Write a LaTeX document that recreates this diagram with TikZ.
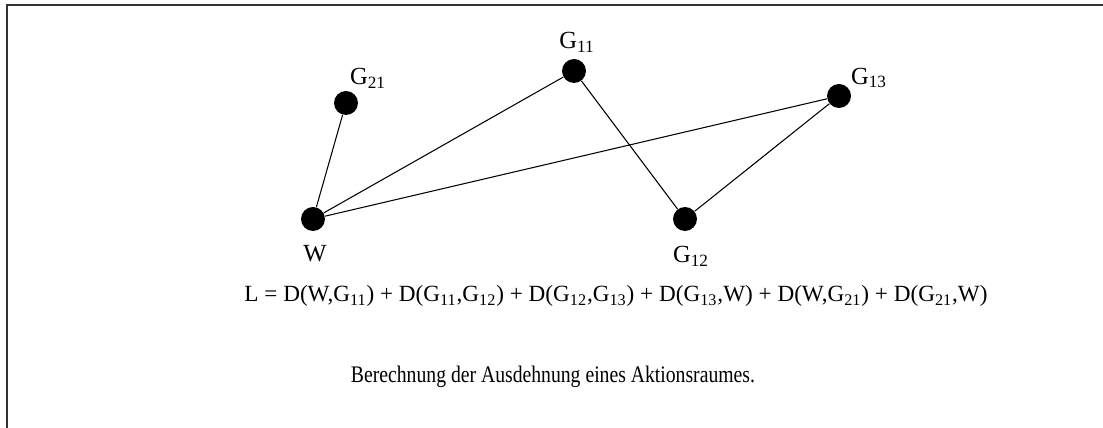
\documentclass[tikz,border=0pt]{standalone}
\usepackage{fontspec}
\setmainfont{Liberation Serif}
\newfontfamily\narrowfont{Liberation Serif}[FakeStretch=0.83]
\usepackage{tikz}
\usetikzlibrary{positioning}
\tikzset{
  place/.style={
    circle,
    fill=black,
    inner sep=0pt,
    minimum size=0.48cm
  },
  tie/.style={
    line width=0.6pt,
    color=black
  },
  place label/.style={
    font=\fontsize{14}{16}\selectfont,
    inner sep=0pt
  },
  frame line/.style={
    line width=0.8pt,
    color=black!80
  }
}
\newcommand{\Gsub}[1]{G\textsubscript{#1}}

\begin{document}
\begin{tikzpicture}[x=0.02cm, y=-0.02cm]
    % 1 Einheit = 1 Pixel der Vorlage (1103 x 428)
    \useasboundingbox (0, 0) rectangle (1103, 428);

    % Rahmen (nur oben und links sichtbar)
    \draw[frame line] (1103, 5) -- (7, 5) -- (7, 428);

    % Orte
    \node[place] (w)   at (313, 219) {};
    \node[place] (g21) at (346, 103) {};
    \node[place] (g11) at (574, 71) {};
    \node[place] (g12) at (685, 219) {};
    \node[place] (g13) at (839, 96) {};

    % Beschriftungen
    \node[place label] (w lab)   at (315, 254) {W};
    \node[place label] (g21 lab) at (368, 78) {\Gsub{21}};
    \node[place label] (g11 lab) at (577, 42) {\Gsub{11}};
    \node[place label] (g12 lab) at (691, 256) {\Gsub{12}};
    \node[place label] (g13 lab) at (869, 78) {\Gsub{13}};

    % Wege
    \foreach \a/\b in {w/g21, w/g11, g11/g12, g12/g13, g13/w} {
      \draw[tie] (\a) -- (\b);
    }

    % Formel und Unterschrift
    \node[font=\fontsize{13.2}{15}\selectfont] (formula) at (616, 296)
      {L = D(W,\Gsub{11}) + D(\Gsub{11},\Gsub{12}) + D(\Gsub{12},\Gsub{13}) + D(\Gsub{13},W) + D(W,\Gsub{21}) + D(\Gsub{21},W)};
    \node[font=\narrowfont\fontsize{13.5}{15}\selectfont] (caption) at (553, 377)
      {Berechnung der Ausdehnung eines Aktionsraumes.};
\end{tikzpicture}
\end{document}
